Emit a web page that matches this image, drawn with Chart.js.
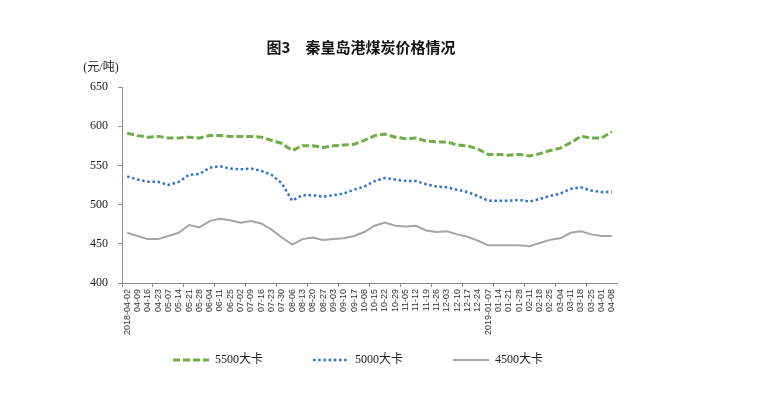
<!DOCTYPE html>
<html>
<head>
<meta charset="utf-8">
<script src="https://cdn.jsdelivr.net/npm/chart.js@4/dist/chart.umd.min.js"></script>
<style>
  html, body { margin: 0; padding: 0; background: #ffffff; }
  #wrap { width: 760px; height: 397px; position: relative; }
</style>
</head>
<body>
<div id="wrap"><canvas id="c" width="760" height="397"></canvas></div>
<script>
const categories = [
  '2018-04-02','04-09','04-16','04-23','05-07','05-14','05-21','05-28','06-04','06-11',
  '06-25','07-02','07-09','07-16','07-23','07-30','08-06','08-13','08-20','08-27',
  '09-03','09-10','09-17','10-08','10-15','10-22','10-29','11-05','11-12','11-19',
  '11-26','12-03','12-10','12-17','12-24','2019-01-07','01-14','01-21','01-28','02-11',
  '02-18','02-25','03-04','03-11','03-18','03-25','04-01','04-08'
];
const kcal5500 = [
  591,588,586,587,585,585,586,585,588,588,
  587,587,587,586,582,578,569,575,575,573,
  575,576,577,582,588,590,586,584,585,581,
  580,580,576,575,571,564,564,563,564,562,
  565,569,572,579,587,585,585,593
];
const kcal5000 = [
  536,532,529,529,525,529,538,539,547,549,
  546,545,546,543,538,527,505,512,512,510,
  512,514,519,523,530,534,532,530,530,526,
  523,522,519,516,511,505,505,505,506,504,
  507,511,514,520,522,518,516,516
];
const kcal4500 = [
  464,460,456,456,460,464,474,471,479,482,
  480,477,479,476,468,458,449,456,458,455,
  456,457,460,465,473,477,473,472,473,467,
  465,466,462,459,454,448,448,448,448,447,
  451,455,457,464,466,462,460,460
];
const seriesNames = ['5500大卡', '5000大卡', '4500大卡'];
const yTicks = [400, 450, 500, 550, 600, 650];
const titleText = '图3　秦皇岛港煤炭价格情况';
const unitText = '(元/吨)';

const unitPlugin = {
  id: 'unitLabel',
  afterLayout(chart) {
    // place legend row just under the rotated date labels, nudge title to the right
    const lg = chart.legend;
    if (lg) { lg.top = 304; lg.bottom = 390; lg.height = 86; lg.left += 5; lg.right += 5; }
    const tt = chart.titleBlock;
    if (tt) { tt.left += 8; tt.right += 8; }
  },
  afterDraw(chart) {
    const ctx = chart.ctx;
    ctx.save();
    ctx.font = '12px "Liberation Serif", "Noto Sans CJK SC"';
    ctx.fillStyle = '#222';
    ctx.textAlign = 'center';
    ctx.textBaseline = 'middle';
    ctx.fillText(unitText, 101, 68);
    ctx.restore();
  }
};

new Chart(document.getElementById('c'), {
  type: 'line',
  data: {
    labels: categories,
    datasets: [
      { label: seriesNames[0], data: kcal5500, borderColor: '#70ad47', backgroundColor: '#70ad47',
        borderWidth: 3, borderDash: [7, 3], pointRadius: 0, tension: 0, fill: false },
      { label: seriesNames[1], data: kcal5000, borderColor: '#2f72d0', backgroundColor: '#2f72d0',
        borderWidth: 2.5, borderDash: [2.5, 2.7], pointRadius: 0, tension: 0, fill: false },
      { label: seriesNames[2], data: kcal4500, borderColor: '#a5a5a5', backgroundColor: '#a5a5a5',
        borderWidth: 2, pointRadius: 0, tension: 0, fill: false }
    ]
  },
  options: {
    responsive: false,
    animation: false,
    events: [],
    layout: { padding: { left: 89, right: 143, top: 0, bottom: 24 } },
    plugins: {
      title: {
        display: true,
        text: titleText,
        color: '#111',
        font: { family: '"Noto Sans CJK SC", "Liberation Sans"', size: 15, weight: 'bold' },
        padding: { top: 38, bottom: 31 }
      },
      legend: {
        display: true,
        position: 'bottom',
        maxHeight: 30,
        labels: {
          usePointStyle: true,
          pointStyle: 'line',
          pointStyleWidth: 36,
          boxHeight: 12,
          padding: 50,
          color: '#222',
          font: { family: '"Liberation Serif", "Noto Sans CJK SC"', size: 12 },
          generateLabels: (chart) => {
            const items = Chart.defaults.plugins.legend.labels.generateLabels(chart);
            items.forEach((it) => {
              const ds = chart.data.datasets[it.datasetIndex];
              it.lineDash = ds.borderDash || [];
              it.strokeStyle = ds.borderColor;
              it.fillStyle = ds.borderColor;
              it.lineWidth = ds.borderWidth;
            });
            return items;
          }
        }
      },
      tooltip: { enabled: false }
    },
    scales: {
      x: {
        type: 'category',
        offset: true,
        afterFit: (s) => { s.height = 60; },
        border: { display: true, color: '#8c8c8c', width: 1 },
        grid: {
          offset: true,
          drawOnChartArea: false,
          drawTicks: true,
          tickLength: 4,
          color: (c) => (c.index % 3 === 0 ? '#8c8c8c' : 'rgba(0,0,0,0)')
        },
        ticks: {
          autoSkip: false,
          maxRotation: 90,
          minRotation: 90,
          padding: 2,
          color: '#333',
          font: { family: '"Liberation Sans"', size: 9 }
        }
      },
      y: {
        min: 400,
        max: 650,
        afterFit: (s) => { s.width = 33; },
        afterBuildTicks: (s) => { s.ticks = yTicks.map(v => ({ value: v })); },
        border: { display: true, color: '#8c8c8c', width: 1 },
        grid: { drawOnChartArea: false, drawTicks: true, tickLength: 4, color: '#8c8c8c' },
        ticks: {
          padding: 10,
          color: '#222',
          font: { family: '"Liberation Serif"', size: 12 }
        }
      }
    }
  },
  plugins: [unitPlugin]
});
</script>
</body>
</html>
